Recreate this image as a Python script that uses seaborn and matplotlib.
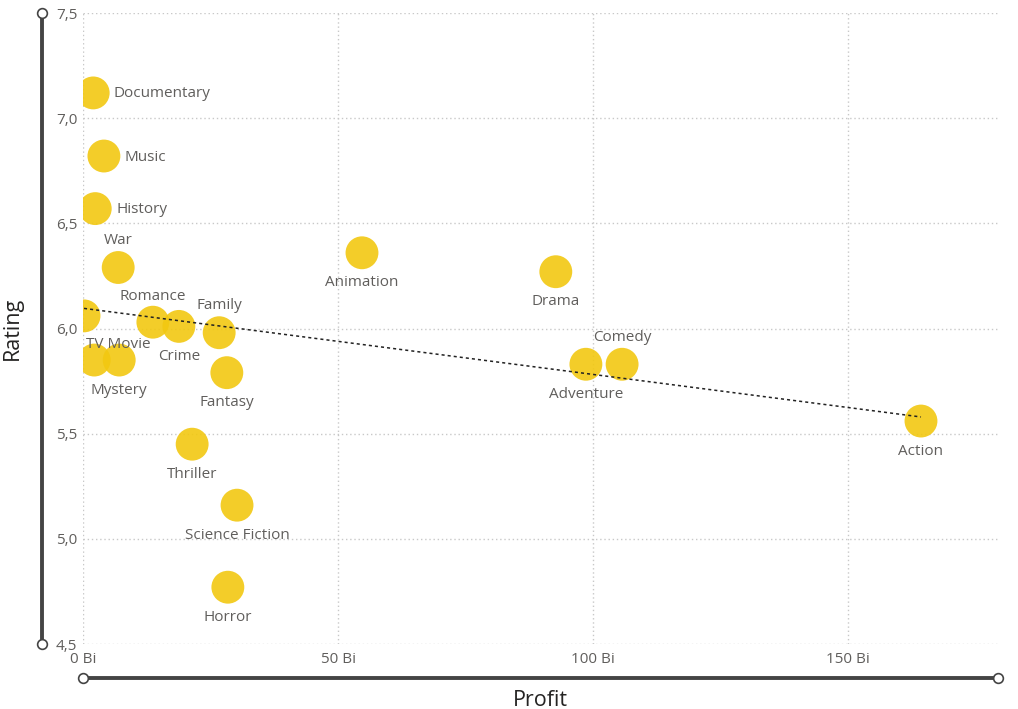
import matplotlib.pyplot as plt
import matplotlib.ticker as mticker
import numpy as np
import pandas as pd
import seaborn as sns

# values
genres = ['Documentary', 'Music', 'History', 'War', 'Romance', 'Family', 'Crime',
          'TV Movie', '', 'Mystery', 'Fantasy', 'Thriller', 'Science Fiction', 'Horror',
          'Animation', 'Drama', 'Adventure', 'Comedy', 'Action']
profit_bi = [2.0, 4.1, 2.4, 6.9, 13.7, 26.7, 18.8,
             0.2, 2.2, 7.1, 28.2, 21.4, 30.2, 28.4,
             54.7, 92.7, 98.6, 105.7, 164.3]
rating = [7.12, 6.82, 6.57, 6.29, 6.03, 5.98, 6.01,
          6.06, 5.85, 5.85, 5.79, 5.45, 5.16, 4.77,
          6.36, 6.27, 5.83, 5.83, 5.56]

df = pd.DataFrame({'Genre': genres, 'Profit': profit_bi, 'Rating': rating})

# label placement (pixel offsets from marker centre)
label_pos = {'Documentary': (20, -1, 'left'), 'Music': (21, -1, 'left'), 'History': (21, -1, 'left'),
             'War': (0, 27, 'center'), 'Romance': (0, 26, 'center'), 'Family': (0, 27, 'center'),
             'Comedy': (0, 27, 'center'), 'TV Movie': (34, -29, 'center')}

sns.set_style('white')
plt.rcParams['font.family'] = ['Open Sans', 'DejaVu Sans']

fig = plt.figure(figsize=(10.18, 7.09), dpi=100)
ax = fig.add_axes([83 / 1018, 65 / 709, 915 / 1018, 631 / 709])

sns.scatterplot(data=df, x='Profit', y='Rating', ax=ax, s=560, color='#F2C811',
                alpha=0.9, edgecolor='none', zorder=3, legend=False)

# linear trend line
k, b = np.polyfit(df['Profit'], df['Rating'], 1)
xs = np.array([df['Profit'].min(), df['Profit'].max()])
ax.plot(xs, k * xs + b, color='#222222', lw=1.1, ls=(0, (2, 2)), zorder=4)

for _, r in df.iterrows():
    if not r['Genre']:
        continue
    dx, dy, ha = label_pos.get(r['Genre'], (0, -30, 'center'))
    ax.annotate(r['Genre'], (r['Profit'], r['Rating']), xytext=(dx, dy),
                textcoords='offset pixels', ha=ha, va='center',
                fontsize=11, color='#605E5C', zorder=5)

ax.set_xlim(0, 179.4)
ax.set_ylim(4.5, 7.5)
ax.set_xticks([0, 50, 100, 150])
ax.set_yticks(np.arange(4.5, 7.51, 0.5))
ax.xaxis.set_major_formatter(mticker.FuncFormatter(lambda v, p: f'{v:.0f} Bi'))
ax.yaxis.set_major_formatter(mticker.FuncFormatter(lambda v, p: f'{v:.1f}'.replace('.', ',')))
ax.tick_params(axis='both', length=0, labelsize=11, colors='#605E5C')
ax.tick_params(axis='y', pad=4)
ax.tick_params(axis='x', pad=6)
ax.grid(True, color='#C8C8C8', ls=(0, (1, 2)), lw=1)
for sp in ax.spines.values():
    sp.set_visible(False)

# decorative axis lines with open circle ends
ax.plot([-0.0448, -0.0448], [0, 1], transform=ax.transAxes, clip_on=False,
        color='#444444', lw=2.8, marker='o', ms=7, mfc='white', mec='#444444', mew=1.2)
ax.plot([0, 1], [-0.0539, -0.0539], transform=ax.transAxes, clip_on=False,
        color='#444444', lw=2.8, marker='o', ms=7, mfc='white', mec='#444444', mew=1.2)

ax.set_xlabel('Profit', fontsize=15.5, color='#252423', labelpad=16)
ax.set_ylabel('Rating', fontsize=15.5, color='#252423', labelpad=24)

fig.savefig('out.png', dpi=100)
